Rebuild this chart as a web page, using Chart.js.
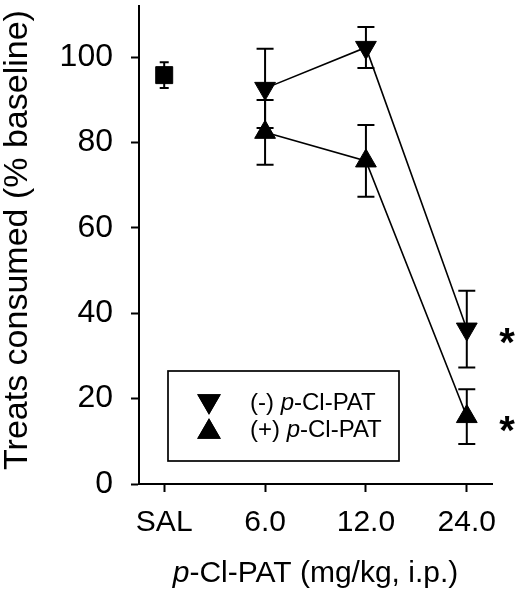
<!DOCTYPE html>
<html><head><meta charset="utf-8">
<script src="https://cdn.jsdelivr.net/npm/chart.js@4/dist/chart.umd.min.js"></script>
<style>html,body{margin:0;padding:0;background:#fff;}#wrap{width:523px;height:601px;position:relative;}</style>
</head><body><div id="wrap"><canvas id="c" width="523" height="601"></canvas></div>
<script>
// ---- data ----
const categories = ['SAL', '6.0', '12.0', '24.0'];
const salMean   = [95.8, null, null, null];
const salErr    = [3.0,  null, null, null];
const minusMean = [null, 92.7, 102.3, 36.3];
const minusErr  = [null, 9.3,  4.8,   9.0];
const plusMean  = [null, 82.4, 75.7,  15.8];
const plusErr   = [null, 7.6,  8.4,   6.4];
const yTicks = [0, 20, 40, 60, 80, 100];
const significant = [false, false, false, true];
const seriesPrefix = ['(-) ', '(+) '];
const drugItalic = 'p';
const drugRest = '-Cl-PAT';
const yTitle = 'Treats consumed (% baseline)';
const xTitleRest = '-Cl-PAT (mg/kg, i.p.)';

const FONT = '"Liberation Sans", Arial, sans-serif';
const toPts = arr => arr.map((v, i) => v == null ? null : {x: i, y: v}).filter(Boolean);

const errorBars = {
  id: 'errorBars',
  afterDatasetsDraw(chart) {
    const {ctx, scales: {x, y}} = chart;
    ctx.save();
    ctx.strokeStyle = '#000';
    ctx.lineWidth = 2;
    chart.data.datasets.forEach(ds => {
      ds.data.forEach(p => {
        const e = ds.err[p.x];
        if (e == null) return;
        const px = x.getPixelForValue(p.x);
        const top = y.getPixelForValue(p.y + e);
        const bot = y.getPixelForValue(p.y - e);
        const h = ds.capHalf;
        ctx.beginPath();
        ctx.moveTo(px, top); ctx.lineTo(px, bot);
        ctx.moveTo(px - h, top); ctx.lineTo(px + h, top);
        ctx.moveTo(px - h, bot); ctx.lineTo(px + h, bot);
        ctx.stroke();
      });
    });
    ctx.restore();
  }
};

const decorations = {
  id: 'decorations',
  afterDraw(chart) {
    const {ctx, chartArea, scales: {x, y}} = chart;
    ctx.save();
    ctx.fillStyle = '#000';
    // stars
    ctx.font = 'bold 40px ' + FONT;
    ctx.textAlign = 'center';
    ctx.textBaseline = 'alphabetic';
    [minusMean, plusMean].forEach(arr => {
      arr.forEach((v, i) => {
        if (v == null || !significant[i]) return;
        ctx.fillText('*', x.getPixelForValue(i + 0.4), y.getPixelForValue(v) + 27);
      });
    });
    // x title with italic p
    const fN = '30px ' + FONT, fI = 'italic 30px ' + FONT;
    ctx.font = fI; const w1 = ctx.measureText(drugItalic).width;
    ctx.font = fN; const w2 = ctx.measureText(xTitleRest).width;
    let sx = (chartArea.left + chartArea.right) / 2 - (w1 + w2) / 2;
    ctx.textAlign = 'left';
    ctx.font = fI; ctx.fillText(drugItalic, sx, 582);
    ctx.font = fN; ctx.fillText(xTitleRest, sx + w1, 582);
    // y title
    ctx.save();
    ctx.translate(18, 240);
    ctx.rotate(-Math.PI / 2);
    ctx.font = '34px ' + FONT;
    ctx.textAlign = 'center';
    ctx.textBaseline = 'middle';
    ctx.fillText(yTitle, 0, 0);
    ctx.restore();
    // legend
    ctx.lineWidth = 1.7;
    ctx.strokeStyle = '#000';
    ctx.strokeRect(168, 371, 231, 90);
    const rows = [{rot: 180, my: 401, ty: 410}, {rot: 0, my: 432, ty: 437}];
    rows.forEach((r, k) => {
      Chart.helpers.drawPoint(ctx, {pointStyle: 'triangle', rotation: r.rot, radius: 12, borderWidth: 1}, 209, r.my);
      ctx.fill(); ctx.stroke();
      ctx.font = '24px ' + FONT;
      let tx = 250;
      ctx.fillText(seriesPrefix[k], tx, r.ty); tx += ctx.measureText(seriesPrefix[k]).width;
      ctx.font = 'italic 24px ' + FONT;
      ctx.fillText(drugItalic, tx, r.ty); tx += ctx.measureText(drugItalic).width;
      ctx.font = '24px ' + FONT;
      ctx.fillText(drugRest, tx, r.ty);
    });
    ctx.restore();
  }
};

new Chart(document.getElementById('c'), {
  type: 'scatter',
  data: {
    datasets: [
      {label: 'SAL', data: toPts(salMean), err: salErr, capHalf: 4.5, showLine: false,
       pointStyle: 'rect', pointRadius: 12, pointBorderWidth: 1,
       backgroundColor: '#000', borderColor: '#000'},
      {label: seriesPrefix[0] + drugItalic + drugRest, data: toPts(minusMean), err: minusErr, capHalf: 8.5,
       showLine: true, borderWidth: 1.6, pointStyle: 'triangle', rotation: 180, pointRadius: 12, pointBorderWidth: 1,
       backgroundColor: '#000', borderColor: '#000'},
      {label: seriesPrefix[1] + drugItalic + drugRest, data: toPts(plusMean), err: plusErr, capHalf: 8.5,
       showLine: true, borderWidth: 1.6, pointStyle: 'triangle', rotation: 0, pointRadius: 12, pointBorderWidth: 1,
       backgroundColor: '#000', borderColor: '#000'}
    ]
  },
  options: {
    responsive: false,
    devicePixelRatio: 1,
    animation: false,
    layout: {autoPadding: false, padding: {top: 6, right: 31, left: 0, bottom: 0}},
    plugins: {legend: {display: false}, tooltip: {enabled: false}},
    scales: {
      x: {
        type: 'linear', min: -0.25, max: 3.25,
        afterBuildTicks: s => { s.ticks = categories.map((c, i) => ({value: i})); },
        afterFit: s => { s.height = 117; s.paddingLeft = 0; s.paddingRight = 0; },
        ticks: {callback: v => categories[v], font: {family: FONT, size: 30}, color: '#000', padding: 13, maxRotation: 0, autoSkip: false},
        grid: {drawOnChartArea: false, drawTicks: true, tickLength: 8, tickColor: '#000', tickWidth: 2},
        border: {display: true, color: '#000', width: 2}
      },
      y: {
        min: 0, max: 112,
        afterBuildTicks: s => { s.ticks = yTicks.map(v => ({value: v})); },
        afterFit: s => { s.width = 139; s.paddingTop = 0; s.paddingBottom = 0; },
        ticks: {font: {family: FONT, size: 32}, color: '#000', padding: 18},
        grid: {drawOnChartArea: false, drawTicks: true, tickLength: 8, tickColor: '#000', tickWidth: 2},
        border: {display: true, color: '#000', width: 2}
      }
    }
  },
  plugins: [errorBars, decorations]
});
</script></body></html>
